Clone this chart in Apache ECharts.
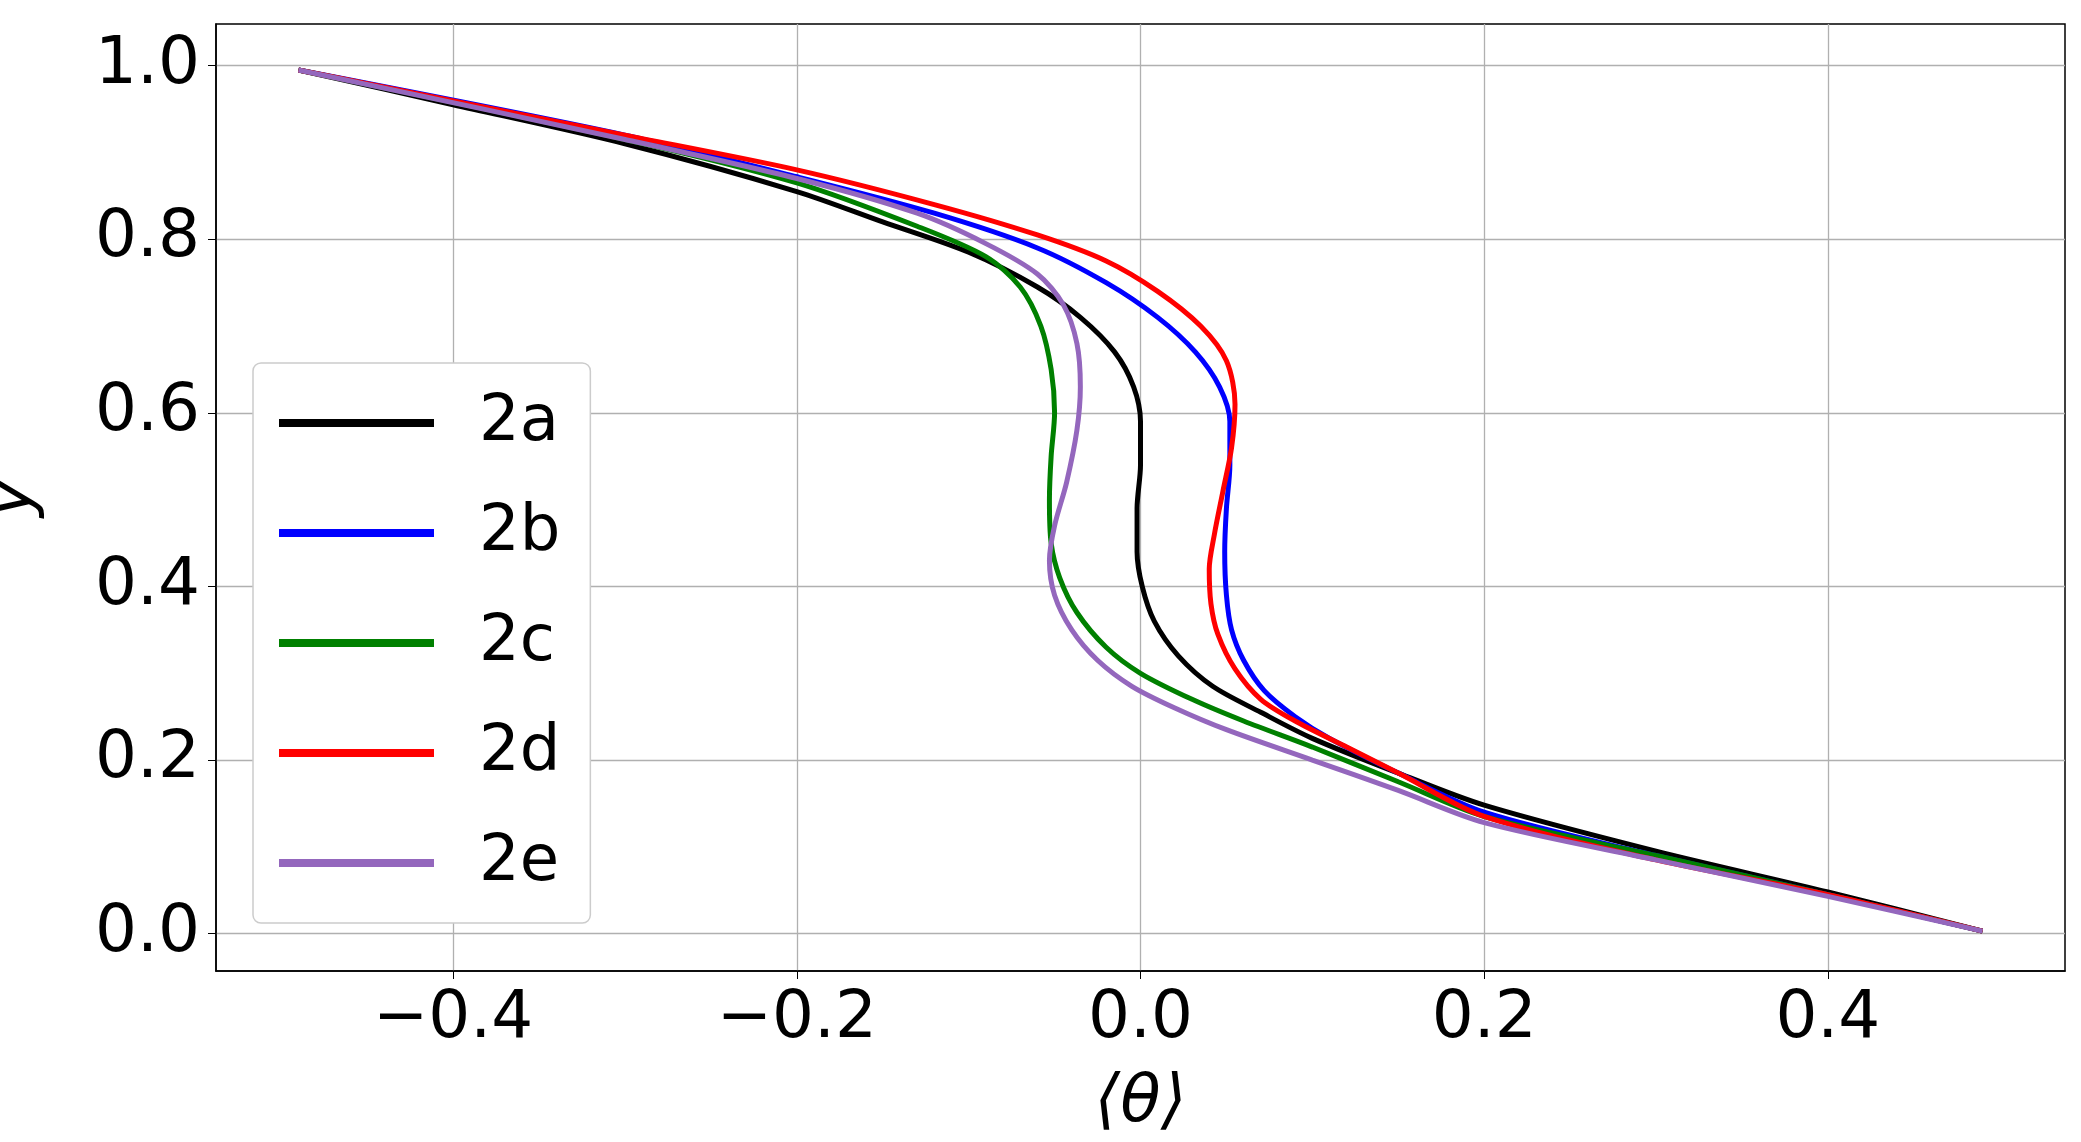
<!DOCTYPE html>
<html>
<head>
<meta charset="utf-8">
<script src="https://cdn.jsdelivr.net/npm/echarts@6/dist/echarts.min.js"></script>
<style>html,body{margin:0;padding:0;background:#fff}#main{width:2081px;height:1142px}</style>
</head>
<body>
<div id="main"></div>
<script>
// [<theta>, y] pairs
var s2a = [[-0.49,0.995],[-0.4,0.955],[-0.3,0.91],[-0.2,0.855],[-0.15,0.82],[-0.1,0.785],[-0.06,0.745],[-0.035,0.71],[-0.015,0.67],[-0.004,0.63],[0.0,0.59],[0.0,0.54],[-0.002,0.49],[-0.002,0.44],[0.001,0.40],[0.008,0.36],[0.022,0.32],[0.042,0.285],[0.07,0.255],[0.1,0.225],[0.15,0.185],[0.2,0.148],[0.3,0.095],[0.4,0.048],[0.49,0.003]];
var s2b = [[-0.49,0.995],[-0.3,0.92],[-0.2,0.872],[-0.12,0.83],[-0.06,0.79],[-0.02,0.75],[0.01,0.71],[0.032,0.67],[0.046,0.63],[0.052,0.59],[0.052,0.54],[0.05,0.49],[0.049,0.44],[0.05,0.39],[0.053,0.35],[0.06,0.315],[0.072,0.28],[0.09,0.25],[0.11,0.225],[0.15,0.185],[0.2,0.14],[0.3,0.09],[0.4,0.045],[0.49,0.003]];
var s2c = [[-0.49,0.995],[-0.3,0.915],[-0.2,0.865],[-0.13,0.815],[-0.09,0.78],[-0.07,0.745],[-0.058,0.7],[-0.052,0.65],[-0.05,0.6],[-0.052,0.55],[-0.053,0.5],[-0.052,0.45],[-0.047,0.41],[-0.037,0.37],[-0.02,0.33],[0.0,0.3],[0.03,0.27],[0.06,0.245],[0.1,0.215],[0.15,0.175],[0.2,0.135],[0.3,0.09],[0.4,0.045],[0.49,0.003]];
var s2d = [[-0.49,0.995],[-0.3,0.92],[-0.2,0.88],[-0.12,0.84],[-0.06,0.805],[-0.02,0.775],[0.01,0.74],[0.035,0.7],[0.05,0.66],[0.055,0.61],[0.053,0.56],[0.048,0.51],[0.043,0.46],[0.04,0.42],[0.041,0.38],[0.045,0.345],[0.055,0.305],[0.07,0.27],[0.09,0.245],[0.12,0.215],[0.15,0.185],[0.2,0.135],[0.3,0.085],[0.4,0.045],[0.49,0.003]];
var s2e = [[-0.49,0.995],[-0.3,0.915],[-0.2,0.87],[-0.13,0.83],[-0.09,0.795],[-0.06,0.76],[-0.045,0.725],[-0.037,0.68],[-0.035,0.63],[-0.037,0.58],[-0.043,0.52],[-0.05,0.47],[-0.053,0.43],[-0.05,0.39],[-0.04,0.35],[-0.025,0.315],[-0.005,0.285],[0.02,0.26],[0.05,0.235],[0.1,0.2],[0.15,0.165],[0.2,0.128],[0.3,0.085],[0.4,0.043],[0.49,0.003]];
var names = ['2a','2b','2c','2d','2e'];
var colors = ['#000000','#0000ff','#008000','#ff0000','#9467bd'];
var xTicks = [-0.4,-0.2,0.0,0.2,0.4];
var yTicks = [0.0,0.2,0.4,0.6,0.8,1.0];

var chart = echarts.init(document.getElementById('main'));
var font = 'DejaVu Sans';
chart.setOption({
  animation: false,
  grid: {left: 216, right: 16, top: 24, bottom: 171, show: true, borderColor: '#000', borderWidth: 1.5,
    containLabel: false, outerBoundsMode: 'none'},
  legend: {
    orient: 'vertical', left: 253, top: 363, padding: [28, 30, 28, 26],
    borderColor: '#ccc', borderWidth: 1.5, borderRadius: 8, backgroundColor: '#fff',
    itemWidth: 155, itemHeight: 8, itemGap: 46,
    textStyle: {fontSize: 64, fontFamily: font, color: '#000', lineHeight: 64, padding: [0,0,0,40]},
    data: names.map(function (n) { return {name: n, icon: 'rect'}; })
  },
  xAxis: {
    type: 'value', min: -0.538, max: 0.538,
    name: '⟨θ⟩', nameLocation: 'middle', nameGap: 100,
    nameTextStyle: {fontSize: 66, fontFamily: font, fontStyle: 'italic', color: '#000'},
    axisLine: {show: true, onZero: false, lineStyle: {color: '#000', width: 1.5}},
    axisTick: {show: true, length: 8, customValues: xTicks, lineStyle: {color: '#000'}},
    axisLabel: {fontSize: 66, fontFamily: font, color: '#000', margin: 16, customValues: xTicks,
      formatter: function (v) { return v < 0 ? '\u2212' + (-v).toFixed(1) : v.toFixed(1); }},
    splitLine: {show: true, lineStyle: {color: '#b0b0b0', width: 1.3}}
  },
  yAxis: {
    type: 'value', min: -0.043, max: 1.048,
    name: 'y', nameLocation: 'middle', nameGap: 170,
    nameTextStyle: {fontSize: 66, fontFamily: font, fontStyle: 'italic', color: '#000'},
    axisLine: {show: true, onZero: false, lineStyle: {color: '#000', width: 1.5}},
    axisTick: {show: true, length: 8, customValues: yTicks, lineStyle: {color: '#000'}},
    axisLabel: {fontSize: 66, fontFamily: font, color: '#000', margin: 16, customValues: yTicks,
      formatter: function (v) { return v.toFixed(1); }},
    splitLine: {show: true, lineStyle: {color: '#b0b0b0', width: 1.3}}
  },
  series: [s2a, s2b, s2c, s2d, s2e].map(function (d, i) {
    return {name: names[i], type: 'line', data: d, smooth: 0.3, showSymbol: false,
      color: colors[i], lineStyle: {width: 5, color: colors[i]}};
  })
});
</script>
</body>
</html>
